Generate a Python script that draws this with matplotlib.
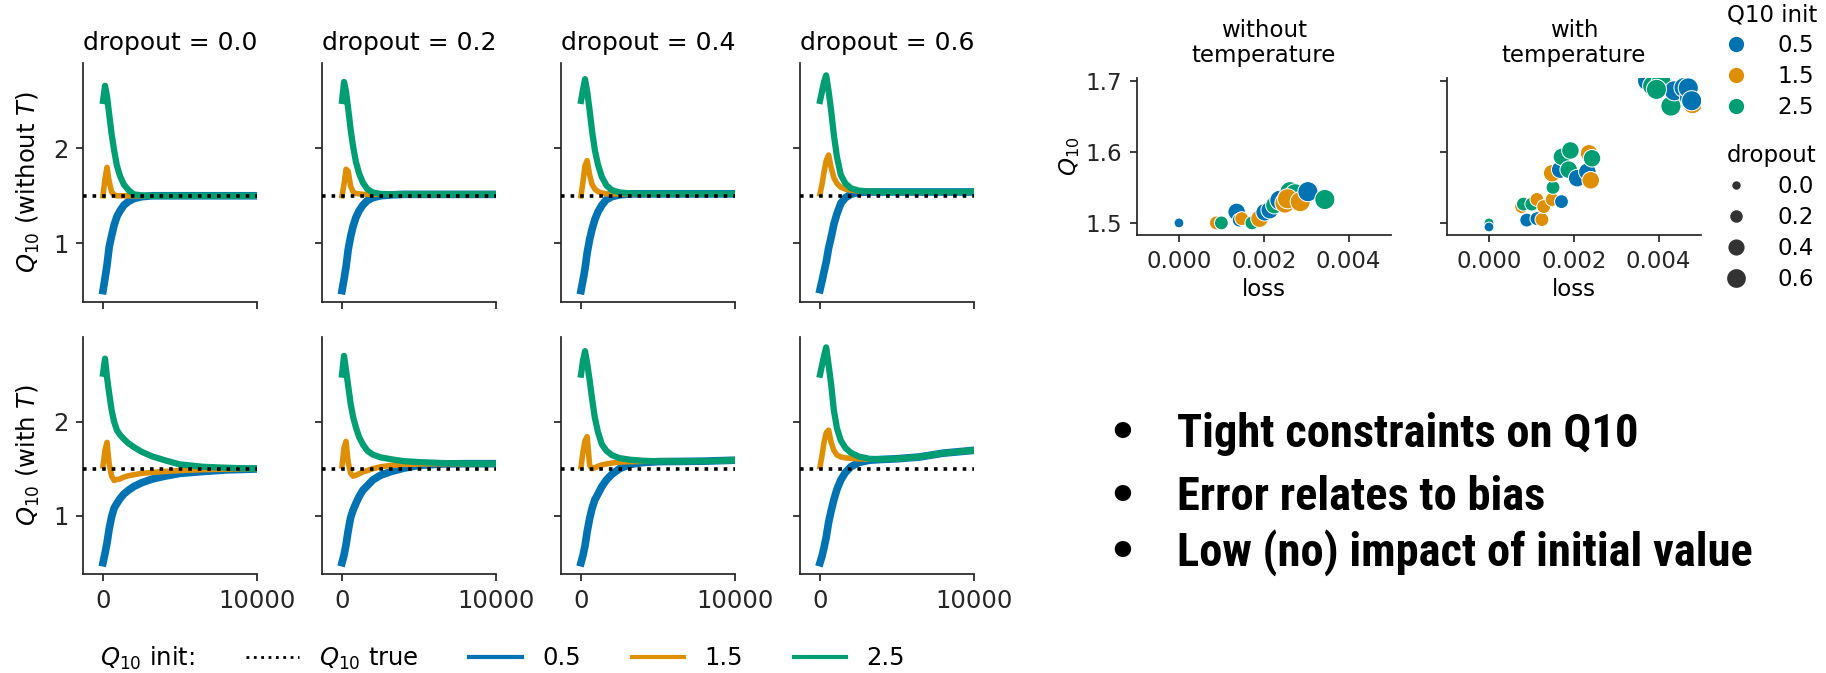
import matplotlib
matplotlib.use('Agg')
import matplotlib.pyplot as plt
from matplotlib import font_manager
from matplotlib.lines import Line2D

# training steps at which the Q10 curves were read
steps = [0, 130, 260, 400, 560, 720, 900, 1100, 1350, 1650, 2000, 2500, 3200, 4000, 5000, 6500, 8000, 10000]
dropouts = [0.0, 0.2, 0.4, 0.6]
inits = [0.5, 1.5, 2.5]
q10_true = 1.5

# top row: without temperature, one list per dropout
noT_init05 = [
    [0.50, 0.63, 0.77, 0.96, 1.08, 1.19, 1.28, 1.34, 1.40, 1.44, 1.47, 1.49, 1.50, 1.50, 1.50, 1.50, 1.50, 1.50],
    [0.50, 0.62, 0.75, 0.93, 1.07, 1.18, 1.27, 1.34, 1.40, 1.45, 1.48, 1.50, 1.51, 1.515, 1.515, 1.515, 1.515, 1.515],
    [0.50, 0.61, 0.73, 0.90, 1.04, 1.15, 1.25, 1.33, 1.40, 1.46, 1.49, 1.51, 1.52, 1.52, 1.52, 1.52, 1.52, 1.52],
    [0.51, 0.60, 0.70, 0.80, 0.95, 1.06, 1.20, 1.31, 1.42, 1.48, 1.515, 1.535, 1.54, 1.54, 1.54, 1.54, 1.54, 1.54],
]
noT_init15 = [
    [1.50, 1.68, 1.80, 1.65, 1.54, 1.51, 1.50, 1.50, 1.50, 1.50, 1.50, 1.50, 1.50, 1.50, 1.50, 1.50, 1.50, 1.50],
    [1.50, 1.62, 1.78, 1.76, 1.60, 1.54, 1.525, 1.52, 1.515, 1.515, 1.515, 1.515, 1.515, 1.515, 1.515, 1.515, 1.515, 1.515],
    [1.50, 1.65, 1.82, 1.87, 1.72, 1.62, 1.57, 1.545, 1.53, 1.52, 1.52, 1.52, 1.52, 1.52, 1.52, 1.52, 1.52, 1.52],
    [1.52, 1.62, 1.75, 1.87, 1.93, 1.80, 1.69, 1.63, 1.59, 1.57, 1.56, 1.55, 1.545, 1.54, 1.54, 1.54, 1.54, 1.54],
]
noT_init25 = [
    [2.50, 2.66, 2.55, 2.36, 2.15, 1.98, 1.82, 1.71, 1.62, 1.56, 1.515, 1.505, 1.50, 1.50, 1.50, 1.50, 1.50, 1.50],
    [2.50, 2.70, 2.60, 2.42, 2.20, 2.02, 1.86, 1.74, 1.64, 1.57, 1.535, 1.52, 1.515, 1.515, 1.515, 1.515, 1.515, 1.515],
    [2.50, 2.62, 2.73, 2.60, 2.40, 2.18, 1.98, 1.83, 1.70, 1.61, 1.56, 1.535, 1.525, 1.52, 1.52, 1.52, 1.52, 1.52],
    [2.50, 2.60, 2.70, 2.77, 2.60, 2.40, 2.14, 1.91, 1.72, 1.63, 1.58, 1.555, 1.545, 1.54, 1.54, 1.54, 1.54, 1.54],
]
# bottom row: with temperature
T_init05 = [
    [0.50, 0.60, 0.71, 0.86, 0.99, 1.08, 1.13, 1.18, 1.23, 1.27, 1.31, 1.35, 1.39, 1.42, 1.45, 1.47, 1.487, 1.497],
    [0.50, 0.58, 0.69, 0.84, 0.98, 1.06, 1.13, 1.20, 1.27, 1.32, 1.38, 1.43, 1.47, 1.505, 1.535, 1.55, 1.553, 1.553],
    [0.50, 0.58, 0.68, 0.83, 0.97, 1.08, 1.17, 1.23, 1.31, 1.38, 1.44, 1.50, 1.545, 1.565, 1.575, 1.577, 1.58, 1.59],
    [0.50, 0.57, 0.66, 0.77, 0.93, 1.05, 1.17, 1.28, 1.38, 1.46, 1.52, 1.565, 1.59, 1.598, 1.605, 1.625, 1.665, 1.695],
]
T_init15 = [
    [1.53, 1.70, 1.78, 1.55, 1.42, 1.375, 1.385, 1.39, 1.41, 1.425, 1.435, 1.45, 1.46, 1.47, 1.48, 1.49, 1.495, 1.50],
    [1.53, 1.72, 1.79, 1.57, 1.45, 1.42, 1.43, 1.445, 1.465, 1.48, 1.50, 1.52, 1.535, 1.545, 1.55, 1.553, 1.553, 1.553],
    [1.52, 1.68, 1.80, 1.84, 1.535, 1.50, 1.51, 1.525, 1.54, 1.55, 1.56, 1.57, 1.575, 1.578, 1.578, 1.577, 1.58, 1.59],
    [1.52, 1.64, 1.78, 1.88, 1.91, 1.78, 1.695, 1.645, 1.625, 1.615, 1.61, 1.605, 1.60, 1.60, 1.605, 1.625, 1.665, 1.695],
]
T_init25 = [
    [2.51, 2.67, 2.47, 2.30, 2.12, 2.00, 1.91, 1.86, 1.815, 1.77, 1.73, 1.68, 1.63, 1.59, 1.545, 1.52, 1.51, 1.50],
    [2.50, 2.70, 2.55, 2.38, 2.19, 2.05, 1.94, 1.84, 1.76, 1.69, 1.65, 1.62, 1.60, 1.58, 1.57, 1.56, 1.555, 1.553],
    [2.50, 2.65, 2.75, 2.62, 2.44, 2.24, 2.04, 1.89, 1.76, 1.69, 1.645, 1.612, 1.595, 1.585, 1.578, 1.577, 1.58, 1.59],
    [2.50, 2.60, 2.70, 2.79, 2.60, 2.40, 2.12, 1.93, 1.80, 1.72, 1.67, 1.63, 1.605, 1.60, 1.605, 1.625, 1.665, 1.695],
]

# final Q10 vs loss, without temperature
loss_noT = [0.0, 0.0, 0.0, 0.00088, 0.00100, 0.00136, 0.00142, 0.00148, 0.00172, 0.00190, 0.00202, 0.00214,
            0.00225, 0.00238, 0.00250, 0.00262, 0.00274, 0.00256, 0.00286, 0.00304, 0.00344]
q10_noT = [1.500, 1.500, 1.500, 1.500, 1.500, 1.5155, 1.504, 1.506, 1.500, 1.506, 1.515, 1.518,
           1.525, 1.532, 1.528, 1.544, 1.541, 1.534, 1.530, 1.544, 1.533]
init_noT = [2.5, 1.5, 0.5, 1.5, 2.5, 0.5, 0.5, 1.5, 2.5, 1.5, 0.5, 0.5,
            2.5, 0.5, 1.5, 2.5, 2.5, 1.5, 1.5, 0.5, 2.5]
drop_noT = [0.0, 0.0, 0.0, 0.2, 0.2, 0.4, 0.2, 0.2, 0.2, 0.4, 0.4, 0.4,
            0.4, 0.6, 0.6, 0.6, 0.6, 0.6, 0.6, 0.6, 0.6]

# final Q10 vs loss, with temperature
loss_T = [0.0, 0.0, 0.0,
          0.00077, 0.00081, 0.00089, 0.00101, 0.00113, 0.00113, 0.00125, 0.00129, 0.00149, 0.00151, 0.00171,
          0.00149, 0.00168, 0.00172, 0.00188, 0.00192, 0.00208, 0.00232, 0.00236, 0.00240, 0.00243,
          0.00374, 0.00386, 0.00406, 0.00429, 0.00437, 0.00460, 0.00473, 0.00470, 0.00480, 0.00478, 0.00395]
q10_T = [1.499, 1.500, 1.4943,
         1.523, 1.5265, 1.504, 1.5265, 1.506, 1.533, 1.5047, 1.523, 1.533, 1.550, 1.530,
         1.570, 1.575, 1.593, 1.575, 1.602, 1.563, 1.572, 1.598, 1.560, 1.591,
         1.700, 1.693, 1.698, 1.6645, 1.686, 1.6905, 1.676, 1.690, 1.668, 1.672, 1.688]
init_T = [1.5, 2.5, 0.5,
          1.5, 2.5, 0.5, 2.5, 0.5, 1.5, 1.5, 1.5, 1.5, 2.5, 0.5,
          1.5, 0.5, 2.5, 2.5, 2.5, 0.5, 0.5, 1.5, 1.5, 2.5,
          0.5, 2.5, 2.5, 2.5, 0.5, 0.5, 0.5, 0.5, 1.5, 0.5, 2.5]
drop_T = [0.0, 0.0, 0.0,
          0.2, 0.2, 0.2, 0.2, 0.2, 0.2, 0.2, 0.2, 0.2, 0.2, 0.2,
          0.4, 0.4, 0.4, 0.4, 0.4, 0.4, 0.4, 0.4, 0.4, 0.4,
          0.6, 0.6, 0.6, 0.6, 0.6, 0.6, 0.6, 0.6, 0.6, 0.6, 0.6]

bullets = ["Tight constraints on Q10", "Error relates to bias", "Low (no) impact of initial value"]

colors = {0.5: '#0173b2', 1.5: '#de8f05', 2.5: '#029e73'}
widths = {0.5: 5.5, 1.5: 4.0, 2.5: 4.5}
sizes = {0.0: 50, 0.2: 100, 0.4: 160, 0.6: 210}
ink = '#262626'

plt.rcParams['font.family'] = 'DejaVu Sans'
plt.rcParams['axes.edgecolor'] = ink
plt.rcParams['axes.linewidth'] = 1.25
plt.rcParams['xtick.color'] = ink
plt.rcParams['ytick.color'] = ink

W, H = 1826, 673
fig = plt.figure(figsize=(W / 100, H / 100), dpi=100)


def rect(left, top, w, h):
    return [left / W, 1 - (top + h) / H, w / W, h / H]


def style(ax, fs, length):
    for side in ['top', 'right']:
        ax.spines[side].set_visible(False)
    ax.tick_params(direction='out', length=length, width=1.25, pad=5.5, labelsize=fs)


rows = [[noT_init05, noT_init15, noT_init25], [T_init05, T_init15, T_init25]]
row_top = [63, 337]
row_h = [239, 237]
col_left = [83, 322, 561, 800]
ylabels = ['$Q_{10}$ (without $T$)', '$Q_{10}$ (with $T$)']

for r in range(2):
    for c in range(4):
        ax = fig.add_axes(rect(col_left[c], row_top[r], 174, row_h[r]))
        for k, init in enumerate(inits):
            ax.plot(steps, rows[r][k][c], color=colors[init], lw=widths[init], solid_joinstyle='round')
        ax.axhline(q10_true, color='black', ls=':', lw=2.6, zorder=5)
        ax.set_xlim(-1300, 10000)
        ax.set_ylim(0.38, 2.9)
        ax.set_xticks([0, 10000])
        ax.set_yticks([1, 2])
        style(ax, 17.5, 5)
        if r == 0:
            ax.set_title(f"dropout = {dropouts[c]}", fontsize=18, pad=9.5)
            ax.set_xticklabels([])
        if c == 0:
            ax.set_ylabel(ylabels[r], fontsize=17.5, labelpad=8)
        else:
            ax.set_yticklabels([])

handles = [Line2D([], [], color='none'),
           Line2D([], [], color='black', ls=':', lw=2)]
handles += [Line2D([], [], color=colors[i], lw=3) for i in inits]
labels = ['$Q_{10}$ init:', '$Q_{10}$ true'] + [str(i) for i in inits]
fig.legend(handles, labels, loc='center left', bbox_to_anchor=(28 / W, 1 - 658 / H), ncol=5,
           frameon=False, fontsize=17.5, handlelength=2.15, handletextpad=0.83, columnspacing=2.1,
           borderpad=0, borderaxespad=0)

# scatter panels
scatter_sets = [(loss_noT, q10_noT, init_noT, drop_noT, 'without\ntemperature', 1137),
                (loss_T, q10_T, init_T, drop_T, 'with\ntemperature', 1447)]
for n, (lx, qy, ini, dr, title, left) in enumerate(scatter_sets):
    ax = fig.add_axes(rect(left, 78, 254, 157))
    ax.scatter(lx, qy, c=[colors[i] for i in ini], s=[sizes[d] for d in dr],
               edgecolors='white', linewidths=0.75, zorder=3)
    ax.set_xlim(-0.00099, 0.00500)
    ax.set_ylim(1.483, 1.704)
    ax.set_xticks([0.0, 0.002, 0.004])
    ax.set_xticklabels(['0.000', '0.002', '0.004'])
    ax.set_yticks([1.5, 1.6, 1.7])
    style(ax, 16.5, 5)
    ax.set_title(title, fontsize=16.5, pad=11.5, linespacing=1.1)
    ax.set_xlabel('loss', fontsize=16.5, labelpad=4)
    if n == 0:
        ax.set_ylabel('$Q_{10}$', fontsize=16.5, labelpad=3)
    else:
        ax.set_yticklabels([])

hue_handles = [Line2D([], [], ls='', marker='o', markersize=12, color=colors[i],
                      markeredgecolor='white') for i in inits]
fig.legend(hue_handles, [str(i) for i in inits], title='Q10 init', loc='upper left',
           bbox_to_anchor=(1727 / W, 1 - 3 / H), frameon=False, fontsize=16.5, title_fontsize=16.5,
           alignment='left', handlelength=0.8, handletextpad=1.4, labelspacing=0.35,
           borderpad=0, borderaxespad=0)
size_handles = [Line2D([], [], ls='', marker='o', markersize=sizes[d] ** 0.5, color='#333333',
                       markeredgecolor='white') for d in dropouts]
fig.legend(size_handles, [str(d) for d in dropouts], title='dropout', loc='upper left',
           bbox_to_anchor=(1727 / W, 1 - 144 / H), frameon=False, fontsize=16.5, title_fontsize=16.5,
           alignment='left', handlelength=0.8, handletextpad=1.4, labelspacing=0.35,
           borderpad=0, borderaxespad=0)

# bullet text in a narrow bold face if one is installed, fitted to the longest line
entries = font_manager.fontManager.ttflist
names = {f.name for f in entries}
bfam, bstretch = 'DejaVu Sans', 'normal'
for cand in ['Liberation Sans Narrow', 'Roboto Condensed', 'Noto Sans Condensed',
             'Open Sans Condensed', 'DejaVu Sans Condensed']:
    if cand in names:
        bfam = cand
        break
else:
    for fam in ['Noto Sans', 'Roboto', 'Open Sans', 'DejaVu Sans']:
        narrow = [f for f in entries if f.name == fam and f.stretch in ('condensed', 'semi-condensed')]
        if narrow:
            bfam, bstretch = fam, narrow[0].stretch
            break

baselines = [447, 510, 566]
texts = []
dots = []
for s, b in zip(bullets, baselines):
    texts.append(fig.text(1177 / W, 1 - b / H, s, fontsize=30, fontweight='bold', family=bfam,
                          fontstretch=bstretch, va='baseline', color='black'))
    dots.append(fig.text(1122 / W, 1 - b / H, '\u2022', fontsize=30, fontweight='bold',
                         family='DejaVu Sans', va='baseline', ha='center', color='black'))
renderer = fig.canvas.get_renderer()
wpx = texts[2].get_window_extent(renderer).width
fsize = min(30 * 595 / wpx, 33.5)
for t in texts + dots:
    t.set_fontsize(fsize)

fig.savefig('out.png', dpi=100)
